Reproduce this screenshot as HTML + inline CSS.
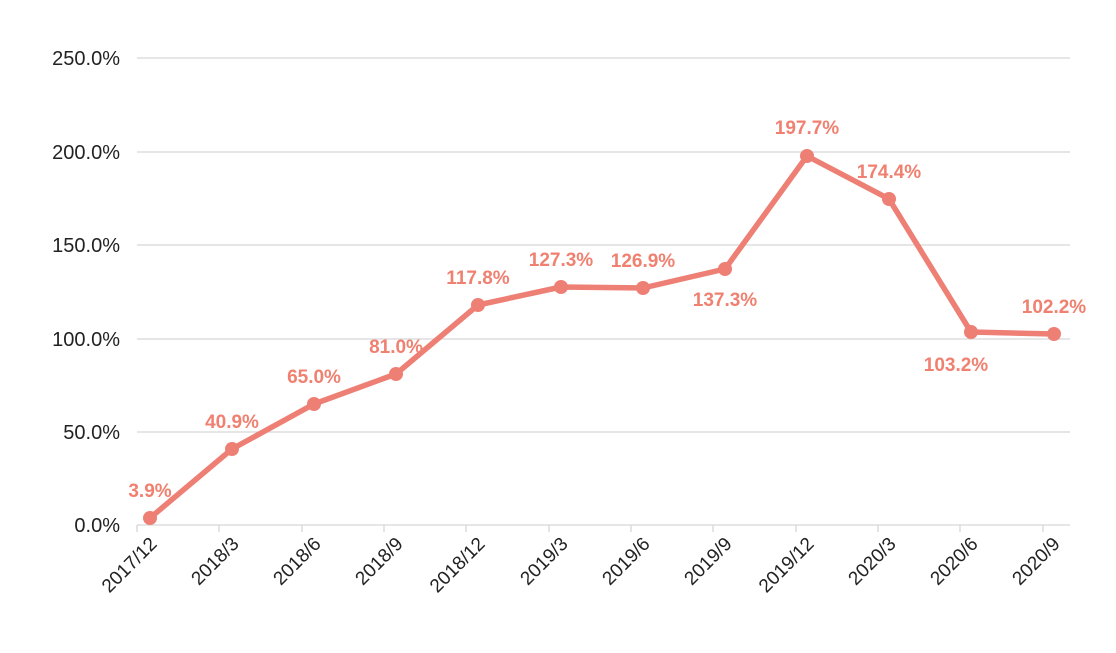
<!DOCTYPE html>
<html><head><style>body{margin:0;background:#fff}</style></head><body>
<svg width="1116" height="648" xmlns="http://www.w3.org/2000/svg" font-family="Liberation Sans, sans-serif">
<g stroke="#d6d6d6" stroke-width="1.3">
<line x1="137" x2="1070" y1="58" y2="58"/><line x1="137" x2="1070" y1="152" y2="152"/>
<line x1="137" x2="1070" y1="245" y2="245"/><line x1="137" x2="1070" y1="339" y2="339"/>
<line x1="137" x2="1070" y1="432" y2="432"/><line x1="137" x2="1070" y1="525" y2="525"/>
<line x1="137" x2="137" y1="525" y2="532"/><line x1="219" x2="219" y1="525" y2="532"/>
<line x1="302" x2="302" y1="525" y2="532"/><line x1="384" x2="384" y1="525" y2="532"/>
<line x1="466" x2="466" y1="525" y2="532"/><line x1="549" x2="549" y1="525" y2="532"/>
<line x1="631" x2="631" y1="525" y2="532"/><line x1="713" x2="713" y1="525" y2="532"/>
<line x1="796" x2="796" y1="525" y2="532"/><line x1="878" x2="878" y1="525" y2="532"/>
<line x1="960" x2="960" y1="525" y2="532"/><line x1="1043" x2="1043" y1="525" y2="532"/>
</g>
<g font-size="20" fill="#222" text-anchor="end">
<text x="120" y="65">250.0%</text><text x="120" y="159">200.0%</text><text x="120" y="252">150.0%</text>
<text x="120" y="346">100.0%</text><text x="120" y="439">50.0%</text><text x="120" y="532">0.0%</text>
</g>
<g font-size="19" fill="#222" text-anchor="end">
<text transform="translate(158,545) rotate(-45)">2017/12</text>
<text transform="translate(240,545) rotate(-45)">2018/3</text>
<text transform="translate(322,545) rotate(-45)">2018/6</text>
<text transform="translate(404,545) rotate(-45)">2018/9</text>
<text transform="translate(486,545) rotate(-45)">2018/12</text>
<text transform="translate(569,545) rotate(-45)">2019/3</text>
<text transform="translate(651,545) rotate(-45)">2019/6</text>
<text transform="translate(733,545) rotate(-45)">2019/9</text>
<text transform="translate(815,545) rotate(-45)">2019/12</text>
<text transform="translate(897,545) rotate(-45)">2020/3</text>
<text transform="translate(979,545) rotate(-45)">2020/6</text>
<text transform="translate(1061,545) rotate(-45)">2020/9</text>
</g>
<polyline fill="none" stroke="#ee7f75" stroke-width="5.5" stroke-linejoin="round" points="150,518 232,449 314,404 396,374 478,305 561,287 643,288 725,269 807,156 889,199 971,332 1054,334"/>
<g fill="#ee7f75">
<circle cx="150" cy="518" r="7"/><circle cx="232" cy="449" r="7"/><circle cx="314" cy="404" r="7"/>
<circle cx="396" cy="374" r="7"/><circle cx="478" cy="305" r="7"/><circle cx="561" cy="287" r="7"/>
<circle cx="643" cy="288" r="7"/><circle cx="725" cy="269" r="7"/><circle cx="807" cy="156" r="7"/>
<circle cx="889" cy="199" r="7"/><circle cx="971" cy="332" r="7"/><circle cx="1054" cy="334" r="7"/>
</g>
<g font-size="19" font-weight="bold" fill="#f08070" text-anchor="middle">
<text x="150" y="497">3.9%</text><text x="232" y="428">40.9%</text><text x="314" y="383">65.0%</text>
<text x="396" y="353">81.0%</text><text x="478" y="284">117.8%</text><text x="561" y="266">127.3%</text>
<text x="643" y="267">126.9%</text><text x="725" y="306">137.3%</text><text x="807" y="134">197.7%</text>
<text x="889" y="178">174.4%</text><text x="956" y="371">103.2%</text><text x="1054" y="313">102.2%</text>
</g>
</svg>
</body></html>
